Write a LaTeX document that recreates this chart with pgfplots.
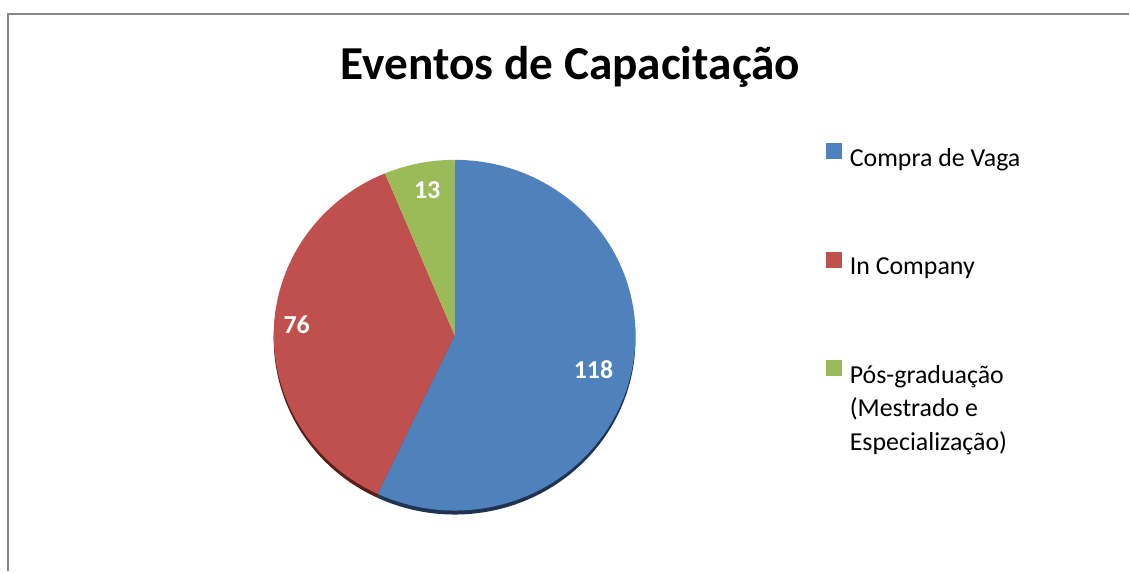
\documentclass[border=0pt]{standalone}
\usepackage{pgfplots}
\pgfplotsset{compat=1.18}
\usepackage{pgfplotstable}
\usepackage{fontspec}
\setmainfont{Carlito}
\definecolor{blueC}{RGB}{79,129,189}
\definecolor{redC}{RGB}{192,80,77}
\definecolor{greenC}{RGB}{155,187,89}
\definecolor{blueD}{RGB}{31,52,80}
\definecolor{redD}{RGB}{90,30,28}
\definecolor{borderC}{RGB}{135,135,135}
\pgfplotstableread{
value
118
76
13
}\piedata
\begin{document}%
\begin{tikzpicture}
\pgfplotstablegetelem{0}{value}\of\piedata \let\vA\pgfplotsretval
\pgfplotstablegetelem{1}{value}\of\piedata \let\vB\pgfplotsretval
\pgfplotstablegetelem{2}{value}\of\piedata \let\vC\pgfplotsretval
\pgfmathsetmacro\total{\vA+\vB+\vC}
\pgfmathsetmacro\aA{90-\vA/\total*360}
\pgfmathsetmacro\aB{\aA-\vB/\total*360}
\begin{axis}[
  x=1bp, y=1bp, xmin=0, xmax=1130, ymin=0, ymax=572,
  hide axis, clip=false,
  legend style={at={(axis cs:827,429)}, anchor=north west, draw=none, fill=none,
     font=\fontsize{26}{34}\selectfont, row sep=82bp,
     inner sep=0pt, column sep=6bp},
  legend cell align=left,
]
\path (axis cs:0,0) rectangle (axis cs:1130,572);
\draw[borderC, line width=2bp] (axis cs:8,0) -- (axis cs:8,557.5) -- (axis cs:1130,557.5);
% shadow rim
\fill[blueD] (axis cs:455,232.5) -- ++(90:181bp and 175.5bp) arc[start angle=90, end angle=\aA, x radius=181bp, y radius=175.5bp] -- cycle;
\fill[redD] (axis cs:455,232.5) -- ++(\aA:181bp and 175.5bp) arc[start angle=\aA, end angle=\aB, x radius=181bp, y radius=175.5bp] -- cycle;
% slices
\fill[blueC] (axis cs:455,236.5) -- ++(90:181bp and 175.5bp) arc[start angle=90, end angle=\aA, x radius=181bp, y radius=175.5bp] -- cycle;
\fill[redC] (axis cs:455,236.5) -- ++(\aA:181bp and 175.5bp) arc[start angle=\aA, end angle=\aB, x radius=181bp, y radius=175.5bp] -- cycle;
\fill[greenC] (axis cs:455,236.5) -- ++(\aB:181bp and 175.5bp) arc[start angle=\aB, end angle=-270, x radius=181bp, y radius=175.5bp] -- cycle;
% value labels
\node[white, anchor=base, font=\fontsize{26}{30}\selectfont\bfseries] at (axis cs:594,193) {\vA};
\node[white, anchor=base, font=\fontsize{26}{30}\selectfont\bfseries] at (axis cs:297,238) {\vB};
\node[white, anchor=base, font=\fontsize{26}{30}\selectfont\bfseries] at (axis cs:427.5,373) {\vC};
% title
\node[anchor=base, font=\fontsize{47.5}{54}\selectfont\bfseries] at (axis cs:571,492) {Eventos de Capacitação};
% legend
\addlegendimage{legend image code/.code={\fill[blueC] (0bp,0bp) rectangle (15bp,15bp);}}
\addlegendentry{Compra de Vaga}
\addlegendimage{legend image code/.code={\fill[redC] (0bp,0bp) rectangle (15bp,15bp);}}
\addlegendentry{In Company}
\addlegendimage{legend image code/.code={\fill[greenC] (0bp,0bp) rectangle (15bp,15bp);}}
\addlegendentry{\raisebox{0pt}[17bp][0pt]{\vtop{\hbox{Pós-graduação}\hbox{(Mestrado e}\hbox{Especialização)}}}}
\end{axis}
\end{tikzpicture}%
\end{document}
